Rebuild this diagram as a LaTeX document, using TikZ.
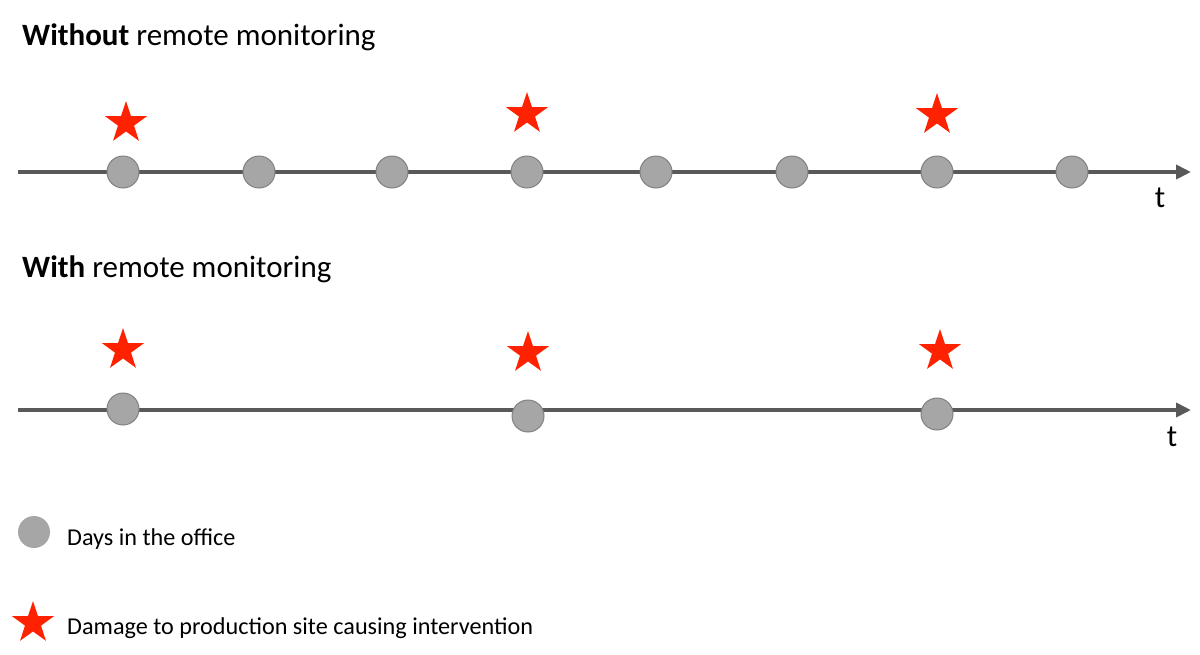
\documentclass[tikz,border=0pt]{standalone}
\usepackage{fontspec}
\setmainfont{Carlito}
\usetikzlibrary{shapes.geometric,arrows.meta}
\definecolor{linegray}{HTML}{595959}
\definecolor{dotfill}{HTML}{A6A6A6}
\definecolor{dotdraw}{HTML}{808080}
\definecolor{starred}{HTML}{FF2200}
\tikzset{
  timeline/.style={draw=linegray, line width=4pt, -{Triangle[length=15pt,width=14pt]}},
  dot/.style={circle, fill=dotfill, draw=dotdraw, line width=1pt, minimum size=32pt, inner sep=0pt},
  legenddot/.style={circle, fill=dotfill, draw=none, minimum size=32pt, inner sep=0pt},
  redstar/.style={star, star points=5, star point ratio=2.6, fill=starred, draw=none, minimum size=44pt, inner sep=0pt},
  title/.style={anchor=base west, font=\fontsize{31}{36}\selectfont, inner sep=0pt},
  legend/.style={anchor=base west, font=\fontsize{24.2}{28}\selectfont, inner sep=0pt},
  tlabel/.style={font=\fontsize{31}{36}\selectfont, inner sep=0pt}
}
\begin{document}
\begin{tikzpicture}[x=1pt,y=-1pt]
\useasboundingbox (0,0) rectangle (1200,654);
% titles
\node[title] (t1) at (22,45) {\textbf{Without} remote monitoring};
\node[title] (t2) at (22,277) {\textbf{With} remote monitoring};
% top timeline
\coordinate (a0) at (18,172);
\coordinate (a1) at (1191,172);
\draw[timeline] (a0) -- (a1);
\foreach \x [count=\i] in {123,259,392,527,656,792,937,1072} {
  \node[dot] (d\i) at (\x,172) {};
}
\node[redstar] (s1) at (126,123) {};
\node[redstar] (s2) at (527,114) {};
\node[redstar] (s3) at (937,115) {};
\node[tlabel] (tl1) at (1160,198) {t};
% bottom timeline
\coordinate (b0) at (18,410);
\coordinate (b1) at (1191,410);
\draw[timeline] (b0) -- (b1);
\node[dot] (e1) at (123,409) {};
\node[dot] (e2) at (528,416) {};
\node[dot] (e3) at (937,414) {};
\node[redstar] (r1) at (123,350) {};
\node[redstar] (r2) at (528,353) {};
\node[redstar] (r3) at (940,351) {};
\node[tlabel] (tl2) at (1172,437) {t};
% legend
\node[legenddot] (ld) at (34,532) {};
\node[legend] (lt1) at (67,545) {Days in the office};
\node[redstar] (ls) at (33,623) {};
\node[legend] (lt2) at (67,634) {Damage to production site causing intervention};
\end{tikzpicture}
\end{document}
